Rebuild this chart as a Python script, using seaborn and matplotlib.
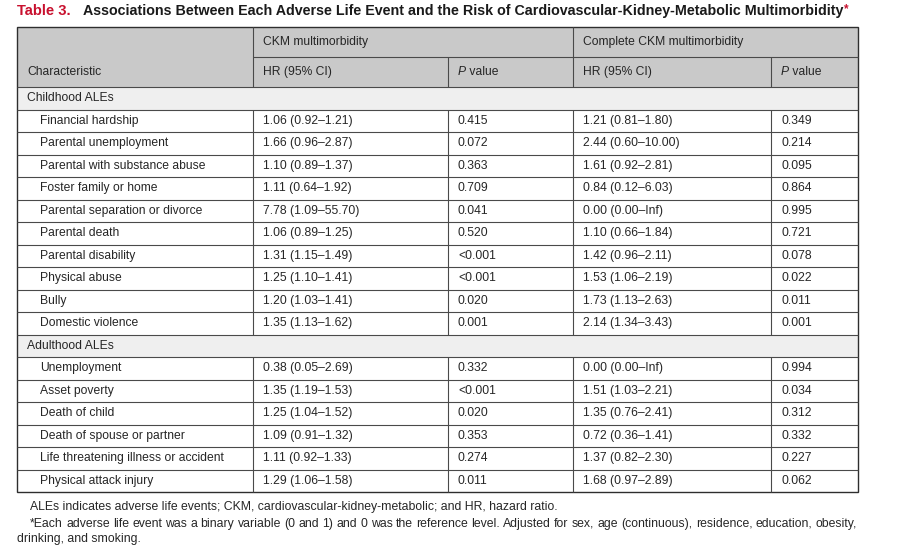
import matplotlib
matplotlib.use("Agg")
import matplotlib.pyplot as plt
import seaborn as sns
from matplotlib.patches import Rectangle

sns.set_theme(style="white")
plt.rcParams["font.family"] = ["Liberation Sans", "DejaVu Sans"]

# table content
title_num = "Table 3."
title_text = "Associations Between Each Adverse Life Event and the Risk of Cardiovascular-Kidney-Metabolic Multimorbidity"
group_headers = ["CKM multimorbidity", "Complete CKM multimorbidity"]
sections = ["Childhood ALEs", "Adulthood ALEs"]
childhood_labels = ["Financial hardship", "Parental unemployment", "Parental with substance abuse",
                    "Foster family or home", "Parental separation or divorce", "Parental death",
                    "Parental disability", "Physical abuse", "Bully", "Domestic violence"]
childhood_ckm_hr = ["1.06 (0.92\u20131.21)", "1.66 (0.96\u20132.87)", "1.10 (0.89\u20131.37)",
                    "1.11 (0.64\u20131.92)", "7.78 (1.09\u201355.70)", "1.06 (0.89\u20131.25)",
                    "1.31 (1.15\u20131.49)", "1.25 (1.10\u20131.41)", "1.20 (1.03\u20131.41)",
                    "1.35 (1.13\u20131.62)"]
childhood_ckm_p = ["0.415", "0.072", "0.363", "0.709", "0.041", "0.520", "<0.001", "<0.001", "0.020", "0.001"]
childhood_comp_hr = ["1.21 (0.81\u20131.80)", "2.44 (0.60\u201310.00)", "1.61 (0.92\u20132.81)",
                     "0.84 (0.12\u20136.03)", "0.00 (0.00\u2013Inf)", "1.10 (0.66\u20131.84)",
                     "1.42 (0.96\u20132.11)", "1.53 (1.06\u20132.19)", "1.73 (1.13\u20132.63)",
                     "2.14 (1.34\u20133.43)"]
childhood_comp_p = ["0.349", "0.214", "0.095", "0.864", "0.995", "0.721", "0.078", "0.022", "0.011", "0.001"]
adulthood_labels = ["Unemployment", "Asset poverty", "Death of child", "Death of spouse or partner",
                    "Life threatening illness or accident", "Physical attack injury"]
adulthood_ckm_hr = ["0.38 (0.05\u20132.69)", "1.35 (1.19\u20131.53)", "1.25 (1.04\u20131.52)",
                    "1.09 (0.91\u20131.32)", "1.11 (0.92\u20131.33)", "1.29 (1.06\u20131.58)"]
adulthood_ckm_p = ["0.332", "<0.001", "0.020", "0.353", "0.274", "0.011"]
adulthood_comp_hr = ["0.00 (0.00\u2013Inf)", "1.51 (1.03\u20132.21)", "1.35 (0.76\u20132.41)",
                     "0.72 (0.36\u20131.41)", "1.37 (0.82\u20132.30)", "1.68 (0.97\u20132.89)"]
adulthood_comp_p = ["0.994", "0.034", "0.312", "0.332", "0.227", "0.062"]
footnote1 = "ALEs indicates adverse life events; CKM, cardiovascular-kidney-metabolic; and HR, hazard ratio."
footnote2 = ("*Each adverse life event was a binary variable (0 and 1) and 0 was the reference level. "
             "Adjusted for sex, age (continuous), residence, education, obesity,")
footnote3 = "drinking, and smoking."

rows = [("section", sections[0])]
for r in zip(childhood_labels, childhood_ckm_hr, childhood_ckm_p, childhood_comp_hr, childhood_comp_p):
    rows.append(("data", r))
rows.append(("section", sections[1]))
for r in zip(adulthood_labels, adulthood_ckm_hr, adulthood_ckm_p, adulthood_comp_hr, adulthood_comp_p):
    rows.append(("data", r))

# geometry in pixels
W, H = 900, 559
cols = [17, 253, 448, 573, 771, 858]
top, mid, hbot, tbot = 27, 57, 87, 492
rh = (tbot - hbot) / len(rows)
fs = 8.75
txt_c = "#262626"
line_c = "#4a4a4a"

fig = plt.figure(figsize=(9, 5.59), dpi=100)
ax = fig.add_axes([0, 0, 1, 1])
ax.set_xlim(0, W)
ax.set_ylim(H, 0)
ax.axis("off")
fig.canvas.draw()
rend = fig.canvas.get_renderer()


def text_w(t):
    bb = t.get_window_extent(renderer=rend)
    return bb.width


def hline(y, x0, x1, lw=0.8, c=line_c):
    ax.plot([x0, x1], [y, y], color=c, lw=lw, solid_capstyle="butt")


def vline(x, y0, y1, lw=0.8, c=line_c):
    ax.plot([x, x], [y0, y1], color=c, lw=lw, solid_capstyle="butt")


# title
t = ax.text(17, 11, title_num, color="#c8102e", fontsize=10.6, fontweight="bold", va="center")
t2 = ax.text(83, 11, title_text, color="#1a1a1a", fontsize=10.3, fontweight="bold", va="center")
ax.text(83 + text_w(t2) + 1, 9, "*", color="#c8102e", fontsize=8.5, fontweight="bold", va="center")

# fills
ax.add_patch(Rectangle((cols[0], top), cols[-1] - cols[0], hbot - top, facecolor="#c9c9c9", edgecolor="none"))
for i, (kind, _) in enumerate(rows):
    if kind == "section":
        ax.add_patch(Rectangle((cols[0], hbot + i * rh), cols[-1] - cols[0], rh,
                               facecolor="#efefef", edgecolor="none"))

# header text
hy1 = (top + mid) / 2
hy2 = (mid + hbot) / 2
ax.text(cols[1] + 10, hy1, group_headers[0], fontsize=fs, color=txt_c, va="center")
ax.text(cols[3] + 10, hy1, group_headers[1], fontsize=fs, color=txt_c, va="center")
ax.text(cols[0] + 10, hy2, "Characteristic", fontsize=fs, color=txt_c, va="center")
for c in (1, 3):
    ax.text(cols[c] + 10, hy2, "HR (95% CI)", fontsize=fs, color=txt_c, va="center")
for c in (2, 4):
    p = ax.text(cols[c] + 10, hy2, "P", fontsize=fs, color=txt_c, va="center", style="italic")
    ax.text(cols[c] + 10 + text_w(p), hy2, " value", fontsize=fs, color=txt_c, va="center")

# body text
for i, (kind, content) in enumerate(rows):
    yc = hbot + (i + 0.5) * rh
    if kind == "section":
        ax.text(cols[0] + 10, yc, content, fontsize=fs, color=txt_c, va="center")
    else:
        ax.text(cols[0] + 23, yc, content[0], fontsize=fs, color=txt_c, va="center")
        for c in range(1, 5):
            ax.text(cols[c] + 10, yc, content[c], fontsize=fs, color=txt_c, va="center")

# grid lines
hline(mid, cols[1], cols[-1])
hline(hbot, cols[0], cols[-1])
for i in range(1, len(rows)):
    hline(hbot + i * rh, cols[0], cols[-1])
vline(cols[1], top, hbot)
vline(cols[3], top, hbot)
vline(cols[2], mid, hbot)
vline(cols[4], mid, hbot)
for i, (kind, _) in enumerate(rows):
    if kind == "data":
        for c in range(1, 5):
            vline(cols[c], hbot + i * rh, hbot + (i + 1) * rh)
ax.add_patch(Rectangle((cols[0], top), cols[-1] - cols[0], tbot - top, facecolor="none",
                       edgecolor="#2e2e2e", lw=1.0))

# footnotes (baseline aligned)
ffs = 8.8
ax.text(30, 510, footnote1, fontsize=ffs, color=txt_c, va="baseline")


def justify(line, x0, x1, y):
    words = line.split(" ")
    objs = [ax.text(0, y, w, fontsize=ffs, color=txt_c, va="baseline") for w in words]
    widths = [text_w(o) for o in objs]
    gap = (x1 - x0 - sum(widths)) / (len(words) - 1)
    x = x0
    for o, w in zip(objs, widths):
        o.set_x(x)
        x += w + gap


justify(footnote2, 30, 857, 527)
ax.text(17, 542, footnote3, fontsize=ffs, color=txt_c, va="baseline")

fig.savefig("out.png", dpi=100)
